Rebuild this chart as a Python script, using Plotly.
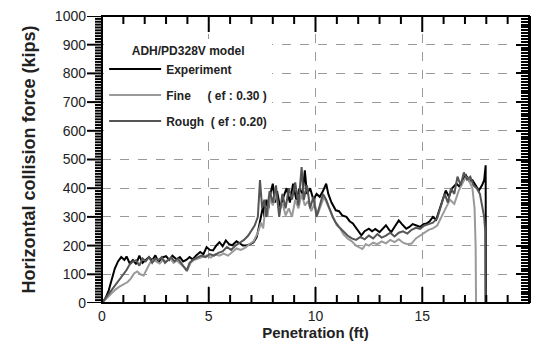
import plotly.graph_objects as go

# ---------------- data ----------------
exp_x = [0.0, 0.15, 0.3, 0.45, 0.6, 0.75, 0.9, 1.05, 1.15, 1.3, 1.45, 1.6, 1.75, 1.9, 2.05, 2.2, 2.35, 2.5,
         2.65, 2.8, 3.0, 3.15, 3.3, 3.5, 3.65, 3.8, 3.95, 4.1, 4.25, 4.4, 4.6, 4.75, 4.9, 5.05, 5.2, 5.35,
         5.5, 5.65, 5.8, 5.95, 6.1, 6.3, 6.45, 6.6, 6.8, 6.95, 7.1, 7.25, 7.35, 7.45, 7.55, 7.6, 7.7, 7.8,
         7.9, 8.0, 8.1, 8.2, 8.35, 8.5, 8.65, 8.8, 8.95, 9.1, 9.25, 9.4, 9.5, 9.6, 9.75, 9.9, 10.05, 10.2,
         10.35, 10.5, 10.6, 10.75, 10.95, 11.1, 11.25, 11.45, 11.6, 11.75, 11.9, 12.05, 12.15, 12.3, 12.5,
         12.65, 12.8, 13.0, 13.15, 13.3, 13.45, 13.55, 13.7, 13.9, 14.05, 14.25, 14.4, 14.55, 14.7, 14.9,
         15.05, 15.2, 15.35, 15.5, 15.65, 15.8, 15.95, 16.1, 16.25, 16.4, 16.6, 16.75, 16.9, 17.05, 17.2,
         17.35, 17.5, 17.65, 17.8, 17.9, 17.97, 17.98]
exp_y = [0, 15, 40, 80, 120, 145, 160, 150, 162, 138, 150, 135, 165, 140, 150, 160, 148, 166,
         142, 158, 163, 150, 165, 152, 160, 145, 150, 160, 152, 165, 178, 170, 195, 185, 183, 200,
         212, 198, 218, 205, 201, 215, 208, 200, 201, 205, 212, 230, 265, 300, 340, 300, 360, 330,
         385, 416, 350, 390, 330, 370, 400, 350, 416, 360, 400, 380, 462, 380, 400, 360, 380, 370,
         390, 416, 380, 350, 323, 320, 305, 300, 285, 277, 260, 245, 236, 250, 259,
         250, 258, 247, 260, 271, 255, 247, 265, 288, 275, 259, 265, 275, 271, 265,
         275, 277, 285, 300, 290, 323, 355, 392, 370, 400, 416, 405, 430, 445, 425,
         428, 410, 392, 410, 428, 480, 0]

fine_x = [0, 0.2, 0.4, 0.6, 0.8, 1.0, 1.2, 1.35, 1.5, 1.65, 1.8, 1.95, 2.1, 2.25, 2.4, 2.55, 2.7, 2.85,
          3.0, 3.2, 3.35, 3.5, 3.7, 3.85, 4.0, 4.15, 4.3, 4.5, 4.7, 4.9, 5.1, 5.3, 5.5, 5.7, 5.9, 6.1,
          6.3, 6.5, 6.7, 6.9, 7.1, 7.3, 7.45, 7.55, 7.65, 7.75, 7.85, 8.0, 8.15, 8.3, 8.45, 8.6, 8.75,
          8.9, 9.05, 9.2, 9.35, 9.5, 9.65, 9.8, 9.95, 10.1, 10.25, 10.4, 10.55, 10.7, 10.85, 11.0,
          11.15, 11.3, 11.5, 11.7, 11.9, 12.05, 12.2, 12.35, 12.5, 12.7, 12.9, 13.1, 13.3, 13.5,
          13.7, 13.9, 14.1, 14.3, 14.5, 14.7, 14.9, 15.1, 15.3, 15.5, 15.7, 15.9, 16.1, 16.3, 16.5,
          16.7, 16.9, 17.05, 17.2, 17.35, 17.45, 17.5, 17.52]
fine_y = [0, 15, 33, 45, 56, 65, 73, 85, 103, 110, 100, 96, 120, 140, 150, 145, 138, 150,
          145, 155, 140, 148, 135, 128, 115, 140, 150, 155, 160, 165, 158, 170, 165, 172, 165, 178,
          190, 185, 192, 205, 215, 245, 280, 260, 330, 300, 370, 340, 380, 320, 350, 305, 330,
          300, 360, 330, 380, 340, 355, 320, 345, 310, 340, 370, 345, 320, 290, 270,
          260, 240, 225, 215, 200, 195, 188, 205, 200, 210, 205, 215, 208, 220,
          212, 222, 210, 205, 207, 225, 235, 245, 255, 260, 270, 300, 330, 360, 345,
          390, 420, 440, 425, 400, 330, 200, 0]

rough_x = [0, 0.2, 0.4, 0.6, 0.8, 1.0, 1.15, 1.3, 1.45, 1.6, 1.75, 1.9, 2.05, 2.2, 2.35, 2.5, 2.65,
           2.8, 2.95, 3.1, 3.25, 3.4, 3.55, 3.7, 3.85, 3.97, 4.1, 4.25, 4.45, 4.65, 4.85, 5.05, 5.25,
           5.45, 5.65, 5.85, 6.05, 6.25, 6.45, 6.65, 6.85, 7.0, 7.15, 7.3, 7.4, 7.5, 7.6, 7.7, 7.85,
           8.0, 8.15, 8.3, 8.45, 8.6, 8.75, 8.9, 9.05, 9.2, 9.35, 9.45, 9.6, 9.75, 9.9, 10.05, 10.2,
           10.35, 10.5, 10.65, 10.8, 10.95, 11.1, 11.3, 11.5, 11.7, 11.9, 12.1, 12.3, 12.5, 12.7,
           12.9, 13.1, 13.3, 13.5, 13.7, 13.9, 14.1, 14.3, 14.5, 14.7, 14.9, 15.1, 15.3, 15.5, 15.7,
           15.9, 16.05, 16.2, 16.35, 16.5, 16.65, 16.8, 16.95, 17.1, 17.25, 17.4, 17.55, 17.7, 17.8,
           17.9, 17.95, 17.96]
rough_y = [0, 20, 44, 60, 80, 100, 115, 135, 145, 149, 130, 155, 145, 160, 140, 155, 150,
           160, 140, 150, 158, 145, 155, 140, 125, 112, 140, 150, 158, 165, 160, 170, 165,
           175, 180, 195, 185, 200, 210, 220, 235, 255, 270, 300, 428, 330, 360, 300, 390,
           350, 410, 300, 380, 330, 400, 360, 420, 340, 474, 360, 410, 330, 370, 300, 340,
           380, 360, 330, 300, 280, 265, 250, 235, 225, 220, 230, 222, 235, 225,
           240, 228, 235, 245, 232, 245, 250, 242, 255, 262, 258, 270, 275, 280, 295,
           340, 380, 350, 400, 380, 440, 410, 455, 430, 440, 410, 400, 380, 340,
           300, 250, 0]

series_names = ["Experiment", "Fine     ( ef : 0.30 )", "Rough  ( ef : 0.20)"]
series_colors = ["#000000", "#9a9a9a", "#555555"]
legend_title = "ADH/PD328V model"
x_title = "Penetration (ft)"
y_title = "Horizontal collision force (kips)"

# tick positions
x_major = [0, 5, 10, 15, 20]
x_minor = [v for v in range(0, 21) if v % 5 != 0]
y_major = list(range(0, 1001, 100))
y_minor = [v for v in range(0, 1001, 10) if v % 100 != 0]

# ---------------- figure ----------------
W, H = 536, 347
ML, MR, MT, MB = 102, 7, 16, 44
PW, PH = W - ML - MR, H - MT - MB
FONT = "Liberation Sans, Arial, sans-serif"

fig = go.Figure()
for i, (xs, ys) in enumerate([(exp_x, exp_y), (fine_x, fine_y), (rough_x, rough_y)]):
    fig.add_trace(go.Scatter(x=xs, y=ys, mode="lines", name=series_names[i],
                             legendgroup=f"g{i}",
                             line=dict(color=series_colors[i], width=2)))
# empty helper trace so the right-hand tick axis is drawn
fig.add_trace(go.Scatter(x=[None], y=[None], xaxis="x", yaxis="y2", mode="lines",
                         showlegend=False, hoverinfo="skip"))

tick_line = dict(color="black", width=2)
# bottom and top ticks (pointing inward)
for vals, length in [(x_major, 16), (x_minor, 8)]:
    for v in vals:
        fig.add_shape(type="line", xref="x", yref="y domain", x0=v, x1=v,
                      y0=0, y1=length / PH, line=tick_line)
        fig.add_shape(type="line", xref="x", yref="y domain", x0=v, x1=v,
                      y0=1, y1=1 - length / PH, line=tick_line)
# left ticks (pointing outward)
for vals, length in [(y_major, 15), (y_minor, 7)]:
    for v in vals:
        fig.add_shape(type="line", xref="x domain", yref="y", x0=-length / PW, x1=0,
                      y0=v, y1=v, line=tick_line)
# plot frame
fig.add_shape(type="rect", xref="x domain", yref="y domain", x0=0, x1=1, y0=0, y1=1,
              line=dict(color="black", width=2), fillcolor="rgba(0,0,0,0)")

fig.update_layout(
    xaxis=dict(range=[0, 20], tickvals=x_major, ticks="", showline=False, zeroline=False,
               showgrid=True, gridcolor="#9a9a9a", griddash="dash", gridwidth=1,
               ticklabelstandoff=3,
               tickfont=dict(family=FONT, size=14, color="#222"),
               title=dict(text=x_title, standoff=1,
                          font=dict(family=FONT, size=15, color="#222", weight="bold"))),
    yaxis=dict(range=[0, 1000], tickvals=y_major, ticks="", showline=False, zeroline=False,
               showgrid=True, gridcolor="#9a9a9a", griddash="dash", gridwidth=1,
               ticklabelstandoff=15,
               tickfont=dict(family=FONT, size=14, color="#222"),
               title=dict(text=y_title, standoff=14,
                          font=dict(family=FONT, size=18, color="#222", weight="bold"))),
    # right ticks (pointing inward)
    yaxis2=dict(overlaying="y", side="right", anchor="x", range=[0, 1000], dtick=100,
                ticks="inside", ticklen=13, showticklabels=False, showgrid=False,
                showline=True, linecolor="black", linewidth=2, tickcolor="black", tickwidth=2,
                zeroline=False,
                minor=dict(dtick=10, ticks="inside", ticklen=8, tickwidth=2, tickcolor="black")),
    width=W, height=H,
    margin=dict(l=ML, r=MR, t=MT, b=MB),
    plot_bgcolor="white", paper_bgcolor="white",
    showlegend=True,
    legend=dict(x=0.005, y=0.92, xanchor="left", yanchor="top",
                bgcolor="white", borderwidth=0,
                tracegroupgap=7, itemwidth=52,
                font=dict(family=FONT, size=12, color="#222", weight="bold"),
                title=dict(text=legend_title, side="top center",
                           font=dict(family=FONT, size=12, color="#222", weight="bold"))),
)

fig.write_html("out.html")
